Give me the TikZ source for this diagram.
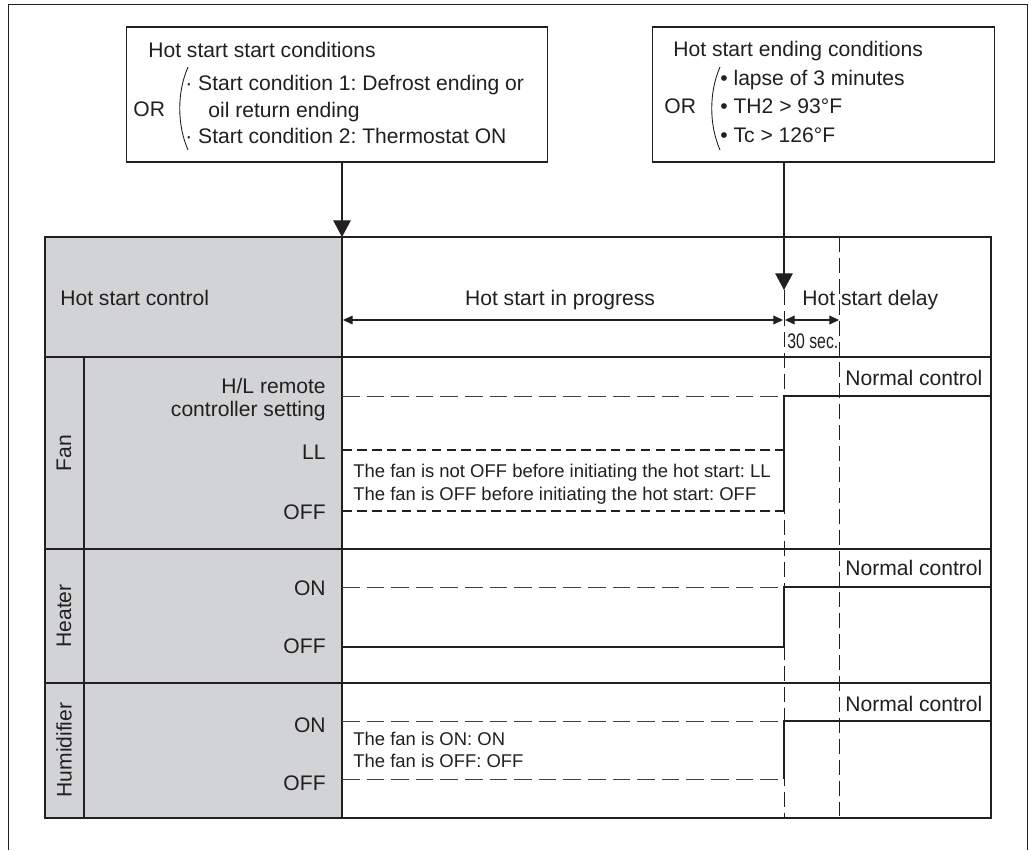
\documentclass[tikz,border=0pt]{standalone}
\usepackage{fontspec}
\setmainfont{Liberation Sans}
\usepackage{tikz}
\usetikzlibrary{arrows.meta,positioning}
\frenchspacing
\definecolor{inkgray}{HTML}{231F20}
\definecolor{panelgray}{HTML}{D1D3D4}
\tikzset{
  txt/.style={inner sep=0pt, font=\fontsize{12}{14}\selectfont},
  note/.style={inner sep=0pt, font=\fontsize{10.5}{12}\selectfont},
  condbox/.style={draw=inkgray, line width=0.6pt, minimum height=2.7cm},
  frameline/.style={draw=inkgray, line width=0.8pt},
  levelthin/.style={draw=inkgray!85, line width=0.45pt, dash pattern=on 10pt off 4pt},
  levelfan/.style={draw=inkgray, line width=0.75pt, dash pattern=on 5.5pt off 3pt},
  levelon/.style={draw=inkgray, line width=0.8pt},
  timeline/.style={draw=inkgray, line width=0.45pt, dash pattern=on 8.5pt off 3.4pt},
  bigarrow/.style={draw=inkgray, line width=0.6pt, -{Triangle[length=9.5pt,width=10pt]}},
  dimarrow/.style={draw=inkgray, line width=0.6pt, {Triangle[length=5.5pt,width=5pt]}-{Triangle[length=5.5pt,width=5pt]}},
}
\begin{document}
\begin{tikzpicture}[x=0.02cm, y=-0.02cm, color=inkgray]
        \useasboundingbox (0,0) rectangle (1029,850);
        % outer frame, open at the bottom
        \draw[line width=0.5pt] (8,850) -- (8,4) -- (1027,4) -- (1027,850);
        % start conditions box
        \node[condbox, minimum width=8.44cm] (startbox) at (337,94.5) {};
        \node[txt, anchor=base west] (starttitle) at (148,57) {Hot start start conditions};
        \node[txt, anchor=base west] (startor) at (133,116) {OR};
        \node[txt, anchor=base west] (startone) at (185,90) {· Start condition 1: Defrost ending or};
        \node[txt, anchor=base west] (startonb) at (208,117) {oil return ending};
        \node[txt, anchor=base west] (starttwo) at (185,143) {· Start condition 2: Thermostat ON};
        \draw[line width=0.5pt] (188,67) .. controls (177,92) and (177,125) .. (188,150);
        % ending conditions box
        \node[condbox, minimum width=6.86cm] (endbox) at (823.5,94.5) {};
        \node[txt, anchor=base west] (endtitle) at (673,56) {Hot start ending conditions};
        \node[txt, anchor=base west] (endor) at (664,113) {OR};
        \node[txt, anchor=base west] (endone) at (720,85) {\textbullet\ lapse of 3 minutes};
        \node[txt, anchor=base west] (endtwo) at (720,113) {\textbullet\ TH2 > 93°F};
        \node[txt, anchor=base west] (endthree) at (720,142) {\textbullet\ Tc > 126°F};
        \draw[line width=0.5pt] (720,67) .. controls (709,92) and (709,125) .. (720,150);
        % table
        \fill[panelgray] (45,237) rectangle (342,818);
        \draw[timeline] (784,290) -- (784,818);
        \draw[timeline] (839,237) -- (839,818);
        \draw[frameline] (45,237) rectangle (991,818);
        \draw[frameline] (342,237) -- (342,818);
        \draw[frameline] (84,357) -- (84,818);
        \foreach \y in {357,549,683}
          \draw[frameline] (45,\y) -- (991,\y);
        % arrows from the boxes
        \coordinate (starttip) at (342,237);
        \coordinate (endtip) at (784,290);
        \draw[bigarrow] (startbox.south -| starttip) -- (starttip);
        \draw[bigarrow] (endbox.south -| endtip) -- (endtip);
        % header
        \node[txt, anchor=base west] (hotctrl) at (60,305) {Hot start control};
        \node[txt, anchor=base] (inprog) at (560,305) {Hot start in progress};
        \node[txt, anchor=base west] (delay) at (802,305) {Hot start delay};
        \node[txt, anchor=base west] (delaytime) at (787,348) {\scalebox{0.75}[1]{30 sec.}};
        \draw[dimarrow] (343,320) -- (783,320);
        \draw[dimarrow] (785,320) -- (839,320);
        % Fan
        \node[txt, rotate=90] (fan) at (64,453) {Fan};
        \node[txt, anchor=base east] (fanhl) at (326,393) {H/L remote};
        \node[txt, anchor=base east] (fanhlb) at (326,416) {controller setting};
        \node[txt, anchor=base east] (fanll) at (326,459) {LL};
        \node[txt, anchor=base east] (fanoff) at (326,519) {OFF};
        \draw[levelthin] (342,396) -- (784,396);
        \draw[levelfan] (342,450) -- (784,450);
        \draw[levelfan] (342,511) -- (784,511);
        \draw[levelon] (784,511) -- (784,396) -- (991,396);
        \node[note, anchor=base west] (fannotea) at (353,477) {The fan is not OFF before initiating the hot start: LL};
        \node[note, anchor=base west] (fannoteb) at (353,500) {The fan is OFF before initiating the hot start: OFF};
        \node[txt, anchor=base west] (fannormal) at (845,385) {Normal control};
        % Heater
        \node[txt, rotate=90] (heater) at (64,616) {Heater};
        \node[txt, anchor=base east] (heaton) at (326,595) {ON};
        \node[txt, anchor=base east] (heatoff) at (326,653) {OFF};
        \draw[levelthin] (342,587) -- (784,587);
        \draw[levelon] (342,647) -- (784,647) -- (784,587) -- (991,587);
        \node[txt, anchor=base west] (heatnormal) at (845,575) {Normal control};
        % Humidifier
        \node[txt, rotate=90] (humid) at (64,750) {Humidifier};
        \node[txt, anchor=base east] (humon) at (326,732) {ON};
        \node[txt, anchor=base east] (humoff) at (326,790) {OFF};
        \draw[levelthin] (342,721) -- (784,721);
        \draw[levelthin] (342,779) -- (784,779);
        \draw[levelon] (784,779) -- (784,721) -- (991,721);
        \node[note, anchor=base west] (humnotea) at (353,745) {The fan is ON: ON};
        \node[note, anchor=base west] (humnoteb) at (353,767) {The fan is OFF: OFF};
        \node[txt, anchor=base west] (humnormal) at (845,711) {Normal control};
\end{tikzpicture}
\end{document}
